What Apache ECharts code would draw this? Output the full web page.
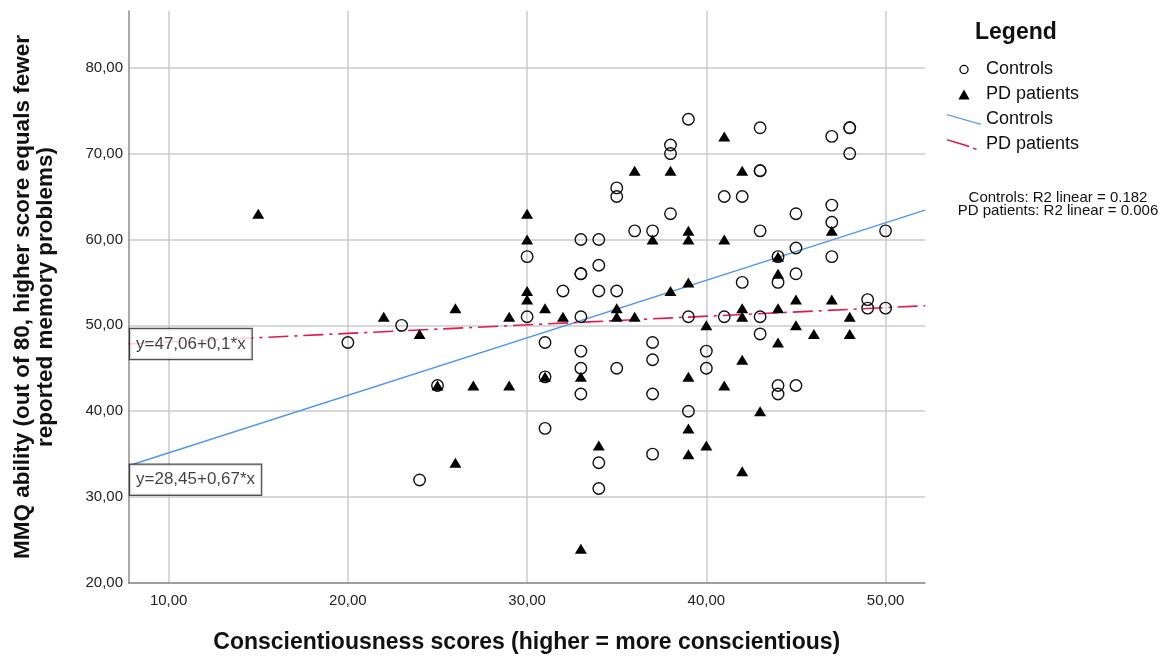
<!DOCTYPE html>
<html>
<head>
<meta charset="utf-8">
<script src="https://cdn.jsdelivr.net/npm/echarts@6/dist/echarts.min.js"></script>
<style>html,body{margin:0;padding:0;background:#fff}#c{width:1174px;height:658px}</style>
</head>
<body>
<div id="c"></div>
<script>
// ---- data ----
const xTicks = [10, 20, 30, 40, 50];
const yTicks = [20, 30, 40, 50, 60, 70, 80];
const xRange = [7.76, 52.2];
const yRange = [20, 86.6];

const controls = [
  [20,48],[23,50],[24,32],[25,43],
  [30,58],[30,51],
  [31,48],[31,44],[31,38],
  [32,54],
  [33,60],[33,56],[33,56],[33,51],[33,47],[33,45],[33,42],
  [34,60],[34,57],[34,54],[34,34],[34,31],
  [35,66],[35,65],[35,54],[35,45],
  [36,61],
  [37,61],[37,48],[37,46],[37,42],[37,35],
  [38,71],[38,70],[38,63],
  [39,74],[39,51],[39,40],
  [40,47],[40,45],
  [41,65],[41,51],
  [42,65],[42,55],
  [43,73],[43,68],[43,68],[43,61],[43,51],[43,49],
  [44,58],[44,55],[44,43],[44,42],
  [45,63],[45,59],[45,56],[45,43],
  [47,72],[47,64],[47,62],[47,58],
  [48,73],[48,73],[48,70],
  [49,53],[49,52],
  [50,61],[50,52]
];

const pdPatients = [
  [15,63],[22,51],[24,49],[25,43],[26,52],[26,34],[27,43],[29,51],[29,43],
  [30,63],[30,60],[30,54],[30,53],
  [31,52],[31,44],
  [32,51],
  [33,44],[33,24],
  [34,36],
  [35,52],[35,51],
  [36,68],[36,51],
  [37,60],
  [38,68],[38,54],
  [39,61],[39,60],[39,55],[39,44],[39,38],[39,35],
  [40,50],[40,36],
  [41,72],[41,60],[41,43],
  [42,68],[42,52],[42,51],[42,46],[42,33],
  [43,40],
  [44,58],[44,56],[44,52],[44,48],
  [45,53],[45,50],
  [46,49],
  [47,61],[47,53],
  [48,51],[48,49]
];

// regression fits: [intercept, slope]
const controlsFit = [28.45, 0.67];
const pdFit = [47.06, 0.1];
const fitLabels = ['y=28,45+0,67*x', 'y=47,06+0,1*x'];
const r2Lines = ['Controls: R2 linear = 0.182', 'PD patients: R2 linear = 0.006'];
const seriesNames = ['Controls', 'PD patients'];

// ---- build ----
const FONT = 'Liberation Sans, Arial, sans-serif';
const BLUE = '#5596e6';
const RED = '#e0194b';
const fitLine = f => xRange.map(x => [x, f[0] + f[1] * x]);
const fmt = v => Number(v).toFixed(2).replace('.', ',');

const ringIcon = 'path://M0,0L0.01,0L0,0.01Z M34,11L33.99,11L34,10.99Z ' +
  'M21.7,5.5A4.7,4.7 0 1 0 12.3,5.5A4.7,4.7 0 1 0 21.7,5.5Z ' +
  'M20.4,5.5A3.4,3.4 0 1 1 13.6,5.5A3.4,3.4 0 1 1 20.4,5.5Z';
const triIcon = 'path://M0,0L0.01,0L0,0.01Z M34,11L33.99,11L34,10.99Z M17,0.6L22.6,10.4L11.4,10.4Z';
const blueIcon = 'path://M0,0L34,9.7L34,11L0,1.3Z';
const redIcon = 'path://M0,0L22,6.6L22,8.2L0,1.6Z M26,8.6L29.5,9.6L29.5,11L26,10Z M34,11L33.99,11L34,10.99Z';

const chart = echarts.init(document.getElementById('c'), null, {renderer: 'canvas'});
chart.setOption({
  animation: false,
  backgroundColor: '#fff',
  textStyle: {fontFamily: FONT},
  grid: {left: 128.5, right: 249, top: 11, bottom: 75, outerBoundsMode: 'none', containLabel: false},
  xAxis: {
    type: 'value', min: xRange[0], max: xRange[1],
    name: 'Conscientiousness scores (higher = more conscientious)',
    nameLocation: 'middle', nameGap: 47,
    nameTextStyle: {fontFamily: FONT, fontWeight: 'bold', fontSize: 23, color: '#111', lineHeight: 26},
    axisLine: {show: true, onZero: false, lineStyle: {color: '#8c8c8c', width: 1.5}},
    axisTick: {show: false, customValues: xTicks},
    axisLabel: {customValues: xTicks, formatter: fmt, fontSize: 15, color: '#222', margin: 10, fontFamily: FONT},
    splitLine: {show: true, lineStyle: {color: '#cbcbcb', width: 1.5}}
  },
  yAxis: {
    type: 'value', min: yRange[0], max: yRange[1],
    name: 'MMQ ability (out of 80, higher score equals fewer\nreported memory problems)',
    nameLocation: 'middle', nameGap: 71, nameRotate: 90,
    nameTextStyle: {fontFamily: FONT, fontWeight: 'bold', fontSize: 22.5, color: '#111', lineHeight: 23, align: 'center'},
    axisLine: {show: true, onZero: false, lineStyle: {color: '#8c8c8c', width: 1.5}},
    axisTick: {show: false, customValues: yTicks},
    axisLabel: {customValues: yTicks, formatter: fmt, fontSize: 15, color: '#222', margin: 5.5, fontFamily: FONT},
    splitLine: {show: true, lineStyle: {color: '#cbcbcb', width: 1.5}}
  },
  legend: {
    orient: 'vertical', left: 947, top: 59.5, padding: 0,
    itemWidth: 34, itemHeight: 11, itemGap: 5,
    selectedMode: false,
    textStyle: {fontFamily: FONT, fontSize: 18, color: '#111', lineHeight: 20},
    formatter: n => n.replace(' fit', ''),
    data: [
      {name: 'Controls', icon: ringIcon, itemStyle: {color: '#000', borderWidth: 0}},
      {name: 'PD patients', icon: triIcon, itemStyle: {color: '#000', borderWidth: 0}},
      {name: 'Controls fit', icon: blueIcon, itemStyle: {color: BLUE, borderWidth: 0}},
      {name: 'PD patients fit', icon: redIcon, itemStyle: {color: RED, borderWidth: 0}}
    ]
  },
  graphic: [
    {type: 'text', left: 975, top: 21, style: {text: 'Legend', font: 'bold 23px ' + FONT, fill: '#111'}},
    {type: 'text', x: 1058, y: 197.5, style: {text: r2Lines[0], font: '15px ' + FONT, fill: '#111', align: 'center', verticalAlign: 'middle'}},
    {type: 'text', x: 1058, y: 210.8, style: {text: r2Lines[1], font: '15px ' + FONT, fill: '#111', align: 'center', verticalAlign: 'middle'}}
  ],
  series: [
    {
      name: seriesNames[0] + ' fit', type: 'line', data: fitLine(controlsFit),
      symbol: 'none', z: 3, silent: true,
      lineStyle: {color: BLUE, width: 1.4}, itemStyle: {color: BLUE}
    },
    {
      name: seriesNames[1] + ' fit', type: 'line', data: fitLine(pdFit),
      symbol: 'none', z: 3, silent: true,
      lineStyle: {color: RED, width: 1.6, type: [20, 6, 3, 6]}, itemStyle: {color: RED}
    },
    {
      name: seriesNames[0], type: 'scatter', data: controls, symbol: 'circle', symbolSize: 11.5, z: 4,
      itemStyle: {color: 'rgba(0,0,0,0)', borderColor: '#111', borderWidth: 1.4, opacity: 1}
    },
    {
      name: seriesNames[1], type: 'scatter', data: pdPatients, symbol: 'triangle', symbolSize: [12, 10], z: 5,
      itemStyle: {color: '#000', opacity: 1}
    },
    {
      name: 'equations', type: 'scatter', symbolSize: 0, z: 10, silent: true,
      data: [
        {value: fitLine(controlsFit)[0], label: {formatter: fitLabels[0], offset: [0, 14]}},
        {value: fitLine(pdFit)[0], label: {formatter: fitLabels[1]}}
      ],
      label: {
        show: true, position: 'right', distance: 1.5,
        fontFamily: FONT, fontSize: 17, lineHeight: 18, color: '#111',
        backgroundColor: '#fff', borderColor: '#222', borderWidth: 1.2, padding: [6, 6]
      }
    }
  ]
});
</script>
</body>
</html>
